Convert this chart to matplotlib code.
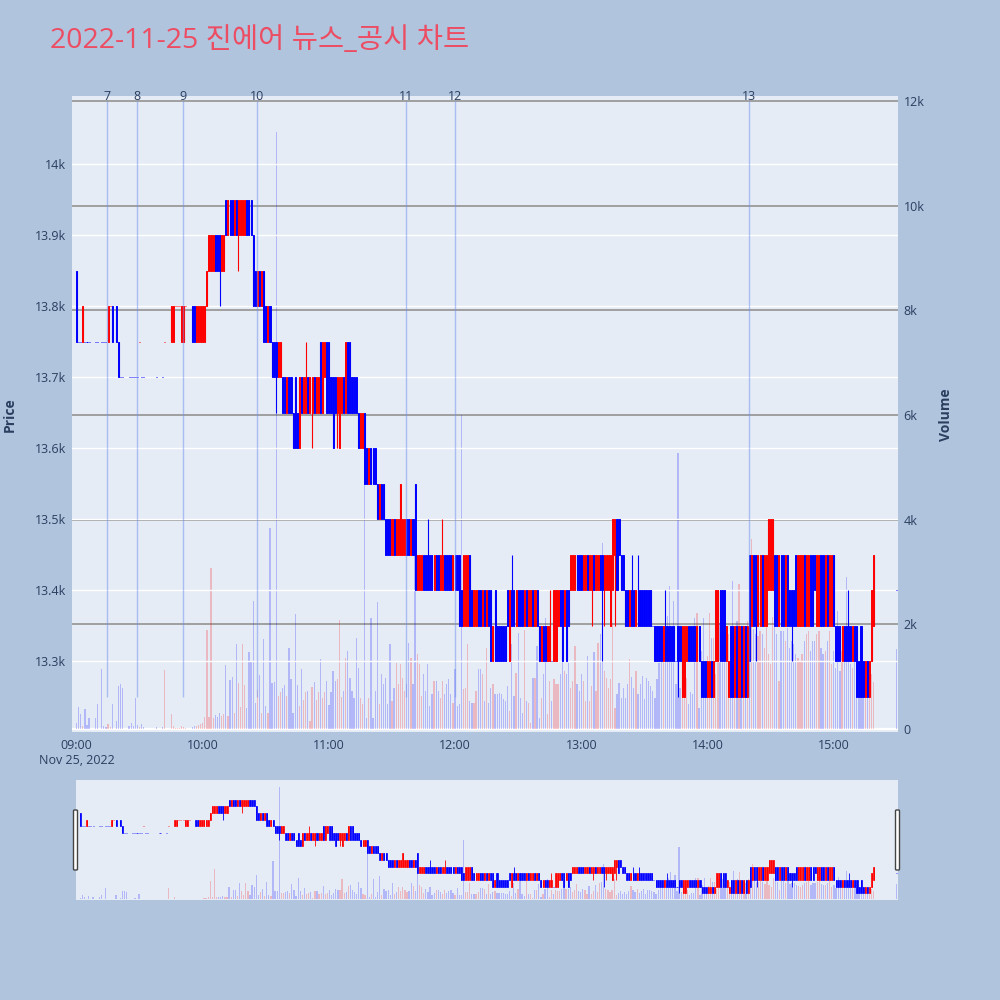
import numpy as np
import matplotlib.pyplot as plt
from matplotlib.patches import FancyBboxPatch

plt.rcParams['font.family'] = ['Open Sans', 'Noto Sans CJK KR', 'DejaVu Sans']

# ==== data: (minute after 09:00, open, close, high, low, volume) ====
bars_09 = [
    (0, 13850, 13750, 13850, 13750, 110), (1, 13750, 13750, 13750, 13750, 420),
    (2, 13750, 13750, 13750, 13750, 290), (3, 13750, 13800, 13800, 13750, 60),
    (4, 13750, 13750, 13750, 13750, 380), (5, 13750, 13750, 13750, 13750, 70),
    (6, 13750, 13750, 13750, 13750, 210), (9, 13750, 13750, 13750, 13750, 210),
    (10, 13750, 13750, 13750, 13750, 480), (12, 13750, 13750, 13750, 13750, 1150),
    (13, 13750, 13750, 13750, 13750, 60), (14, 13750, 13750, 13750, 13750, 40),
    (15, 13750, 13800, 13800, 13750, 90), (16, 13800, 13800, 13800, 13800, 30),
    (17, 13800, 13750, 13800, 13750, 480), (19, 13800, 13750, 13800, 13750, 150),
    (20, 13750, 13700, 13750, 13700, 820), (21, 13700, 13700, 13700, 13700, 860),
    (22, 13700, 13700, 13700, 13700, 780), (25, 13700, 13700, 13700, 13700, 60),
    (26, 13700, 13700, 13700, 13700, 110), (27, 13700, 13700, 13700, 13700, 60),
    (28, 13700, 13700, 13700, 13700, 590), (29, 13700, 13700, 13700, 13700, 80),
    (30, 13750, 13750, 13750, 13750, 40), (31, 13700, 13700, 13700, 13700, 90),
    (32, 13700, 13700, 13700, 13700, 40), (38, 13700, 13700, 13700, 13700, 30),
    (41, 13700, 13700, 13700, 13700, 30), (42, 13750, 13750, 13750, 13750, 1130),
    (45, 13750, 13800, 13800, 13750, 290), (46, 13750, 13800, 13800, 13750, 60),
    (47, 13800, 13800, 13800, 13800, 20), (48, 13800, 13800, 13800, 13800, 20),
    (49, 13800, 13800, 13800, 13800, 20), (50, 13750, 13800, 13800, 13750, 60),
    (51, 13750, 13800, 13800, 13750, 40), (52, 13800, 13800, 13800, 13800, 20),
    (55, 13800, 13750, 13800, 13750, 40), (56, 13800, 13750, 13800, 13750, 60),
    (57, 13750, 13800, 13800, 13750, 50), (58, 13750, 13800, 13800, 13750, 80),
    (59, 13750, 13800, 13800, 13750, 100),
]
bars_10 = [
    (60, 13750, 13800, 13800, 13750, 120), (61, 13750, 13800, 13800, 13750, 230),
    (62, 13800, 13850, 13850, 13800, 1900), (63, 13850, 13900, 13900, 13850, 230),
    (64, 13850, 13900, 13900, 13850, 3070), (65, 13850, 13900, 13900, 13850, 220),
    (66, 13900, 13850, 13900, 13850, 260), (67, 13900, 13850, 13900, 13850, 230),
    (68, 13900, 13850, 13900, 13800, 300), (69, 13850, 13900, 13900, 13850, 250),
    (70, 13850, 13900, 13900, 13850, 280), (71, 13950, 13900, 13950, 13900, 1220),
    (72, 13900, 13950, 13950, 13900, 250), (73, 13950, 13900, 13950, 13900, 940),
    (74, 13950, 13900, 13950, 13900, 990), (75, 13900, 13950, 13950, 13900, 300),
    (76, 13950, 13900, 13950, 13900, 1620), (77, 13900, 13950, 13950, 13850, 880),
    (78, 13900, 13950, 13950, 13900, 420), (79, 13900, 13950, 13950, 13900, 1620),
    (80, 13900, 13950, 13950, 13900, 850), (81, 13950, 13900, 13950, 13900, 400),
    (82, 13950, 13900, 13950, 13900, 1470), (83, 13950, 13900, 13950, 13900, 1300),
    (84, 13900, 13800, 13900, 13800, 2440), (85, 13850, 13800, 13850, 13800, 500),
    (86, 13800, 13850, 13850, 13800, 740), (87, 13850, 13800, 13850, 13800, 1030),
    (88, 13800, 13850, 13850, 13800, 300), (89, 13850, 13750, 13850, 13750, 1720),
    (90, 13800, 13750, 13800, 13750, 440), (91, 13750, 13800, 13800, 13750, 300),
    (92, 13800, 13750, 13800, 13750, 3850), (93, 13750, 13700, 13750, 13700, 880),
    (94, 13750, 13700, 13750, 13700, 900), (95, 13750, 13700, 13750, 13650, 11400),
    (96, 13700, 13750, 13750, 13700, 630), (97, 13700, 13750, 13750, 13700, 700),
    (98, 13700, 13650, 13700, 13650, 780), (99, 13700, 13650, 13700, 13650, 850),
    (100, 13650, 13700, 13700, 13650, 630), (101, 13700, 13650, 13700, 13650, 1550),
    (102, 13700, 13650, 13700, 13650, 950), (103, 13650, 13600, 13650, 13600, 300),
    (104, 13700, 13600, 13700, 13600, 2190), (105, 13650, 13600, 13650, 13600, 850),
    (106, 13600, 13700, 13700, 13600, 440), (107, 13700, 13650, 13700, 13650, 1140),
    (108, 13650, 13700, 13700, 13650, 560), (109, 13650, 13700, 13750, 13650, 700),
    (110, 13700, 13650, 13700, 13650, 720), (111, 13650, 13700, 13700, 13650, 150),
    (112, 13650, 13700, 13700, 13600, 810), (113, 13700, 13650, 13700, 13650, 890),
    (114, 13650, 13700, 13700, 13650, 560), (115, 13650, 13700, 13700, 13650, 700),
    (116, 13750, 13650, 13750, 13650, 1340), (117, 13650, 13750, 13750, 13650, 590),
    (118, 13700, 13750, 13750, 13700, 700), (119, 13750, 13650, 13750, 13650, 920),
]
bars_11 = [
    (120, 13750, 13650, 13750, 13650, 450), (121, 13700, 13650, 13700, 13650, 700),
    (122, 13700, 13600, 13700, 13600, 1100), (123, 13700, 13650, 13700, 13650, 920),
    (124, 13650, 13700, 13700, 13600, 950), (125, 13600, 13700, 13700, 13600, 2080),
    (126, 13650, 13700, 13700, 13650, 620), (127, 13700, 13650, 13700, 13650, 730),
    (128, 13650, 13750, 13750, 13650, 1350), (129, 13750, 13650, 13750, 13650, 1490),
    (130, 13750, 13650, 13750, 13650, 980), (131, 13700, 13650, 13700, 13650, 725),
    (132, 13700, 13650, 13700, 13650, 600), (133, 13700, 13650, 13700, 13650, 1740),
    (134, 13650, 13600, 13650, 13600, 1160), (135, 13600, 13650, 13650, 13600, 600),
    (136, 13600, 13650, 13650, 13600, 470), (137, 13650, 13550, 13650, 13550, 4960),
    (138, 13600, 13550, 13600, 13550, 215), (139, 13550, 13600, 13600, 13550, 600),
    (140, 13600, 13550, 13600, 13550, 2120), (141, 13600, 13550, 13600, 13550, 215),
    (142, 13600, 13550, 13600, 13550, 725), (143, 13550, 13500, 13550, 13500, 2420),
    (144, 13500, 13550, 13550, 13500, 470), (145, 13550, 13500, 13550, 13500, 1050),
    (146, 13550, 13500, 13550, 13500, 860), (147, 13500, 13450, 13500, 13450, 980),
    (148, 13500, 13450, 13500, 13450, 470), (149, 13500, 13450, 13500, 13450, 1620),
    (150, 13450, 13500, 13500, 13450, 535), (151, 13500, 13450, 13500, 13450, 790),
    (152, 13450, 13500, 13500, 13450, 1265), (153, 13450, 13500, 13500, 13450, 860),
    (154, 13450, 13550, 13550, 13450, 1235), (155, 13450, 13500, 13500, 13450, 980),
    (156, 13450, 13500, 13500, 13450, 725), (157, 13500, 13450, 13500, 13450, 860),
    (158, 13500, 13450, 13500, 13450, 1640), (159, 13450, 13500, 13500, 13450, 1350),
    (160, 13500, 13450, 13500, 13450, 860), (161, 13550, 13400, 13550, 13400, 3690),
    (162, 13400, 13450, 13450, 13400, 1425), (163, 13400, 13450, 13450, 13400, 1235),
    (164, 13400, 13450, 13450, 13400, 630), (165, 13450, 13400, 13450, 13400, 1050),
    (166, 13450, 13400, 13450, 13400, 725), (167, 13450, 13400, 13500, 13400, 1240),
    (168, 13450, 13400, 13450, 13400, 440), (169, 13450, 13400, 13450, 13400, 660),
    (170, 13400, 13450, 13450, 13400, 915), (171, 13450, 13400, 13450, 13400, 920),
    (172, 13450, 13400, 13450, 13400, 725), (173, 13400, 13450, 13450, 13400, 600),
    (174, 13400, 13450, 13500, 13400, 915), (175, 13450, 13400, 13450, 13400, 660),
    (176, 13450, 13400, 13450, 13400, 860), (177, 13450, 13400, 13450, 13400, 950),
    (178, 13450, 13400, 13450, 13400, 660), (179, 13400, 13450, 13450, 13400, 500),
]
bars_12 = [
    (180, 13450, 13400, 13450, 13400, 1140), (181, 13450, 13400, 13450, 13400, 440),
    (182, 13450, 13350, 13450, 13350, 470), (183, 13400, 13350, 13400, 13350, 6000),
    (184, 13350, 13450, 13450, 13350, 757), (185, 13350, 13450, 13450, 13350, 790),
    (186, 13350, 13450, 13450, 13350, 1620), (187, 13450, 13350, 13450, 13350, 534),
    (188, 13400, 13350, 13400, 13350, 502), (189, 13350, 13400, 13400, 13350, 502),
    (190, 13350, 13400, 13400, 13350, 725), (191, 13400, 13350, 13400, 13350, 1140),
    (192, 13400, 13350, 13400, 13350, 1140), (193, 13350, 13400, 13400, 13350, 1043),
    (194, 13400, 13350, 13400, 13350, 534), (195, 13350, 13400, 13400, 13350, 1550),
    (196, 13400, 13350, 13400, 13350, 502), (197, 13400, 13300, 13400, 13300, 790),
    (198, 13300, 13350, 13350, 13300, 853), (199, 13400, 13300, 13400, 13300, 662),
    (200, 13350, 13300, 13350, 13300, 662), (201, 13350, 13300, 13350, 13300, 693),
    (202, 13350, 13300, 13350, 13300, 662), (203, 13350, 13300, 13350, 13300, 566),
    (204, 13350, 13300, 13350, 13300, 534), (205, 13400, 13350, 13400, 13350, 820),
    (206, 13300, 13400, 13400, 13300, 343), (207, 13400, 13350, 13450, 13350, 1620),
    (208, 13400, 13350, 13400, 13350, 630), (209, 13350, 13400, 13400, 13350, 1070),
    (210, 13400, 13350, 13400, 13350, 1830), (211, 13400, 13350, 13400, 13350, 598),
    (212, 13400, 13350, 13400, 13350, 310), (213, 13350, 13400, 13400, 13350, 1900),
    (214, 13400, 13350, 13400, 13350, 534), (215, 13350, 13400, 13400, 13350, 502),
    (216, 13350, 13400, 13400, 13350, 120), (217, 13400, 13350, 13400, 13350, 980),
    (218, 13350, 13400, 13400, 13350, 980), (219, 13400, 13350, 13400, 13350, 1580),
    (220, 13350, 13300, 13350, 13300, 216), (221, 13300, 13350, 13350, 13300, 598),
    (222, 13350, 13300, 13350, 13300, 1043), (223, 13350, 13300, 13350, 13300, 2120),
    (224, 13300, 13350, 13350, 13300, 280), (225, 13300, 13350, 13400, 13300, 916),
    (226, 13300, 13300, 13300, 13300, 534), (227, 13300, 13400, 13400, 13300, 948),
    (228, 13300, 13400, 13400, 13300, 853), (229, 13350, 13400, 13400, 13350, 853),
    (230, 13400, 13350, 13400, 13350, 1043), (231, 13400, 13300, 13400, 13300, 1298),
    (232, 13350, 13400, 13400, 13350, 1100), (233, 13400, 13300, 13400, 13300, 1043),
    (234, 13400, 13350, 13400, 13350, 1266), (235, 13400, 13450, 13450, 13400, 790),
    (236, 13400, 13450, 13450, 13400, 916), (237, 13400, 13450, 13450, 13400, 1580),
    (238, 13450, 13400, 13450, 13400, 853), (239, 13450, 13400, 13450, 13400, 725),
]
bars_13 = [
    (240, 13450, 13400, 13450, 13400, 1043), (241, 13400, 13450, 13450, 13400, 916),
    (242, 13400, 13450, 13450, 13400, 534), (243, 13450, 13400, 13450, 13400, 1390),
    (244, 13400, 13450, 13450, 13400, 534), (245, 13400, 13450, 13450, 13350, 820),
    (246, 13450, 13400, 13450, 13400, 1475), (247, 13400, 13450, 13450, 13400, 725),
    (248, 13400, 13450, 13450, 13400, 1640), (249, 13450, 13400, 13450, 13400, 1810),
    (250, 13450, 13400, 13450, 13300, 3555), (251, 13400, 13450, 13450, 13350, 1107),
    (252, 13400, 13450, 13450, 13400, 980), (253, 13400, 13450, 13450, 13400, 790),
    (254, 13350, 13450, 13450, 13350, 948), (255, 13400, 13500, 13500, 13400, 2030),
    (256, 13450, 13500, 13500, 13350, 407), (257, 13500, 13400, 13500, 13400, 662),
    (258, 13500, 13450, 13500, 13450, 884), (259, 13450, 13400, 13450, 13400, 598),
    (260, 13450, 13400, 13450, 13400, 790), (261, 13400, 13350, 13400, 13350, 598),
    (262, 13400, 13350, 13400, 13350, 853), (263, 13350, 13400, 13400, 13350, 1330),
    (264, 13400, 13350, 13450, 13350, 999), (265, 13400, 13350, 13400, 13350, 790),
    (266, 13350, 13400, 13400, 13350, 1107), (267, 13400, 13350, 13450, 13350, 662),
    (268, 13400, 13350, 13400, 13350, 853), (269, 13400, 13350, 13400, 13350, 1012),
    (270, 13400, 13350, 13400, 13350, 566), (271, 13400, 13350, 13400, 13350, 980),
    (272, 13400, 13350, 13400, 13350, 916), (273, 13400, 13350, 13400, 13350, 820),
    (274, 13350, 13350, 13350, 13350, 725), (275, 13350, 13300, 13350, 13300, 600),
    (276, 13350, 13300, 13350, 13300, 948), (277, 13350, 13300, 13350, 13300, 1266),
    (278, 13350, 13300, 13350, 13300, 1489), (279, 13300, 13350, 13350, 13300, 1807),
    (280, 13350, 13300, 13400, 13300, 1700), (281, 13350, 13300, 13350, 13300, 2160),
    (282, 13350, 13300, 13350, 13300, 2730), (283, 13350, 13300, 13350, 13300, 1616),
    (284, 13350, 13300, 13350, 13300, 2440), (285, 13300, 13300, 13300, 13300, 853),
    (286, 13350, 13300, 13350, 13250, 5270), (287, 13350, 13300, 13350, 13300, 790),
    (288, 13250, 13350, 13350, 13250, 1489), (289, 13250, 13350, 13350, 13250, 980),
    (290, 13300, 13350, 13350, 13300, 980), (291, 13350, 13300, 13350, 13300, 470),
    (292, 13350, 13300, 13350, 13300, 700), (293, 13350, 13300, 13350, 13300, 662),
    (294, 13350, 13300, 13350, 13300, 2125), (295, 13300, 13350, 13350, 13300, 2220),
    (296, 13350, 13300, 13350, 13300, 407), (297, 13300, 13250, 13300, 13250, 1500),
    (298, 13300, 13250, 13300, 13250, 2125), (299, 13300, 13250, 13300, 13250, 1170),
]
bars_14 = [
    (300, 13250, 13300, 13300, 13250, 1400), (301, 13250, 13300, 13300, 13250, 2220),
    (302, 13300, 13250, 13300, 13250, 1743), (303, 13250, 13300, 13300, 13250, 1743),
    (304, 13300, 13400, 13400, 13300, 1043), (305, 13300, 13400, 13400, 13300, 2030),
    (306, 13400, 13300, 13400, 13300, 2030), (307, 13400, 13300, 13400, 13300, 2093),
    (308, 13400, 13300, 13400, 13300, 1600), (309, 13300, 13350, 13350, 13300, 1870),
    (310, 13250, 13300, 13300, 13250, 1807), (311, 13350, 13250, 13350, 13250, 1684),
    (312, 13350, 13250, 13350, 13250, 2833), (313, 13250, 13350, 13350, 13250, 1939),
    (314, 13350, 13250, 13350, 13250, 2067), (315, 13250, 13350, 13350, 13250, 2769),
    (316, 13350, 13250, 13350, 13250, 1876), (317, 13250, 13350, 13350, 13250, 1812),
    (318, 13350, 13250, 13350, 13250, 1700), (319, 13250, 13350, 13350, 13250, 2067),
    (320, 13450, 13300, 13450, 13300, 2195), (321, 13350, 13450, 13450, 13350, 3631),
    (322, 13450, 13350, 13450, 13350, 1908), (323, 13450, 13350, 13450, 13300, 1812),
    (324, 13350, 13450, 13450, 13350, 1780), (325, 13350, 13450, 13450, 13350, 1876),
    (326, 13450, 13350, 13450, 13350, 1812), (327, 13350, 13450, 13450, 13350, 1557),
    (328, 13350, 13450, 13450, 13350, 2322), (329, 13400, 13500, 13500, 13400, 1429),
    (330, 13400, 13500, 13500, 13400, 1238), (331, 13400, 13500, 13500, 13400, 2131),
    (332, 13450, 13350, 13450, 13350, 2386), (333, 13450, 13350, 13450, 13350, 1812),
    (334, 13350, 13450, 13450, 13350, 919), (335, 13450, 13350, 13450, 13350, 1876),
    (336, 13450, 13350, 13450, 13350, 1876), (337, 13350, 13450, 13450, 13350, 1684),
    (338, 13450, 13350, 13450, 13350, 1939), (339, 13400, 13350, 13400, 13350, 1557),
    (340, 13400, 13350, 13400, 13300, 1684), (341, 13400, 13350, 13400, 13350, 1621),
    (342, 13450, 13350, 13450, 13350, 1429), (343, 13350, 13450, 13450, 13350, 1365),
    (344, 13350, 13450, 13450, 13350, 1302), (345, 13350, 13450, 13450, 13350, 1429),
    (346, 13450, 13350, 13450, 13350, 1684), (347, 13350, 13450, 13450, 13350, 1812),
    (348, 13350, 13450, 13450, 13350, 1876), (349, 13450, 13350, 13450, 13350, 1493),
    (350, 13450, 13350, 13450, 13350, 1684), (351, 13450, 13400, 13450, 13400, 1684),
    (352, 13350, 13450, 13450, 13350, 1812), (353, 13350, 13450, 13450, 13350, 1876),
    (354, 13450, 13350, 13450, 13350, 1557), (355, 13450, 13350, 13450, 13350, 1429),
    (356, 13350, 13450, 13450, 13350, 1493), (357, 13450, 13350, 13450, 13350, 1684),
    (358, 13350, 13450, 13450, 13350, 1876), (359, 13350, 13450, 13450, 13350, 1238),
]
bars_15 = [
    (360, 13450, 13350, 13450, 13350, 1493), (361, 13350, 13300, 13350, 13300, 1174),
    (362, 13350, 13300, 13350, 13300, 2258), (363, 13350, 13300, 13350, 13300, 1110),
    (364, 13300, 13350, 13350, 13300, 1500), (365, 13350, 13300, 13350, 13300, 1300),
    (366, 13350, 13300, 13350, 13300, 2897), (367, 13350, 13300, 13400, 13300, 1557),
    (368, 13350, 13300, 13350, 13300, 1238), (369, 13300, 13350, 13350, 13300, 1174),
    (370, 13350, 13300, 13350, 13300, 1429), (371, 13350, 13250, 13350, 13250, 1046),
    (372, 13300, 13250, 13300, 13250, 1302), (373, 13350, 13250, 13350, 13250, 1174),
    (374, 13300, 13250, 13300, 13250, 1238), (375, 13250, 13300, 13300, 13250, 1302),
    (376, 13300, 13250, 13300, 13250, 1174), (377, 13250, 13300, 13300, 13250, 1100),
    (378, 13300, 13400, 13400, 13300, 1046), (379, 13350, 13450, 13450, 13350, 900),
    (390, 13400, 13400, 13400, 13400, 1530),
]

# news markers (minute after 09:00) and their numbers
news_minutes = [14.4, 28.6, 50.5, 85.7, 156.7, 180.1, 319.8]
news_labels = ['7', '8', '9', '10', '11', '12', '13']

hour_ticks = [0, 60, 120, 180, 240, 300, 360]
hour_labels = ['09:00\nNov 25, 2022', '10:00', '11:00', '12:00', '13:00', '14:00', '15:00']
price_ticks = [13300, 13400, 13500, 13600, 13700, 13800, 13900, 14000]
volume_ticks = [0, 2000, 4000, 6000, 8000, 10000, 12000]

rows = bars_09 + bars_10 + bars_11 + bars_12 + bars_13 + bars_14 + bars_15
t = np.array([r[0] for r in rows], dtype=float)
o = np.array([r[1] for r in rows], dtype=float)
c = np.array([r[2] for r in rows], dtype=float)
h = np.array([r[3] for r in rows], dtype=float)
l = np.array([r[4] for r in rows], dtype=float)
v = np.array([r[5] for r in rows], dtype=float)

# direction like plotly: equal open/close falls back on previous close
up = []
prev_c, prev_up = None, False
for oo, cc in zip(o, c):
    if cc > oo:
        d = True
    elif cc < oo:
        d = False
    elif prev_c is not None and cc != prev_c:
        d = cc > prev_c
    else:
        d = prev_up
    up.append(d)
    prev_c, prev_up = cc, d
up = np.array(up)
col = np.where(up, '#ff0000', '#0000ff')

XLIM = (-2.14, 390.6)
PLIM = (13200, 14096)
VLIM = (-57, 12096)
BG = '#B0C4DE'
PBG = '#E5ECF6'
TXT = '#2a3f5f'


def draw(ax_v, ax_p, body_w, body_lw, wick_lw):
    ax_v.bar(t, v, width=0.6, color=col, alpha=0.22, linewidth=0, zorder=2)
    ax_p.vlines(t, l, h, colors=col, lw=wick_lw, zorder=3)
    ax_p.bar(t, np.abs(c - o), bottom=np.minimum(o, c), width=body_w,
             color=col, edgecolor=col, linewidth=body_lw, zorder=4)


fig = plt.figure(figsize=(10, 10), dpi=100, facecolor=BG)

ax_v = fig.add_axes([0.072, 0.268, 0.826, 0.636])
ax_v.set_facecolor(PBG)
ax_p = ax_v.twinx()

for yv in volume_ticks[1:]:
    ax_v.axhline(yv, color='#9a9a9a', lw=1.3, zorder=1)
ax_v.axhline(0, color='white', lw=1.6, zorder=1)
for yp in price_ticks:
    ax_p.axhline(yp, color='white', lw=1.0, zorder=1)

draw(ax_v, ax_p, 0.5, 0.7, 0.8)

for m, lab in zip(news_minutes, news_labels):
    ax_p.vlines(m, 13250, 13950 * 1.01, colors='#6f8ff0', lw=1.0, alpha=0.5, zorder=5)
    ax_p.text(m, 1.0, lab, transform=ax_p.get_xaxis_transform(), ha='center', va='center',
              fontsize=9, color=TXT, clip_on=False)

ax_v.set_xlim(*XLIM)
ax_v.set_ylim(*VLIM)
ax_p.set_ylim(*PLIM)

ax_v.set_xticks(hour_ticks)
ax_v.set_xticklabels(hour_labels)
ax_v.yaxis.tick_right()
ax_v.set_yticks(volume_ticks)
ax_v.set_yticklabels(['0' if x == 0 else f'{x // 1000}k' for x in volume_ticks])
ax_p.yaxis.tick_left()
ax_p.set_yticks(price_ticks)
ax_p.set_yticklabels([f'{x / 1000:g}k' for x in price_ticks])
ax_v.tick_params(axis='x', length=0, pad=5, labelsize=9, labelcolor=TXT)
ax_v.tick_params(axis='y', length=0, pad=4, labelsize=9, labelcolor=TXT)
ax_p.tick_params(axis='y', length=0, pad=4, labelsize=9, labelcolor=TXT)
for a in (ax_v, ax_p):
    for s in a.spines.values():
        s.set_visible(False)

fig.text(0.010, 0.585, 'Price', rotation=90, ha='center', va='center',
         fontsize=10, fontweight='bold', color=TXT)
fig.text(0.946, 0.585, 'Volume', rotation=90, ha='center', va='center',
         fontsize=10, fontweight='bold', color=TXT)
fig.text(0.05, 0.959, '2022-11-25 진에어 뉴스_공시 차트', ha='left', va='center',
         fontsize=20.5, color='#EC4D63')

# range slider
ax_sv = fig.add_axes([0.076, 0.10, 0.822, 0.12])
ax_sv.set_facecolor(PBG)
ax_sp = ax_sv.twinx()
draw(ax_sv, ax_sp, 0.5, 0.5, 0.6)
ax_sv.set_xlim(*XLIM)
ax_sv.set_ylim(*VLIM)
ax_sp.set_ylim(*PLIM)
for a in (ax_sv, ax_sp):
    a.set_xticks([])
    a.set_yticks([])
    for s in a.spines.values():
        s.set_visible(False)

for x0 in (0.0735, 0.8955):
    fig.patches.append(FancyBboxPatch((x0, 0.130), 0.004, 0.060, boxstyle='round,pad=0,rounding_size=0.001',
                                      transform=fig.transFigure, facecolor='white',
                                      edgecolor='#444444', linewidth=1.0))

fig.savefig('out.png', dpi=100, facecolor=BG)
